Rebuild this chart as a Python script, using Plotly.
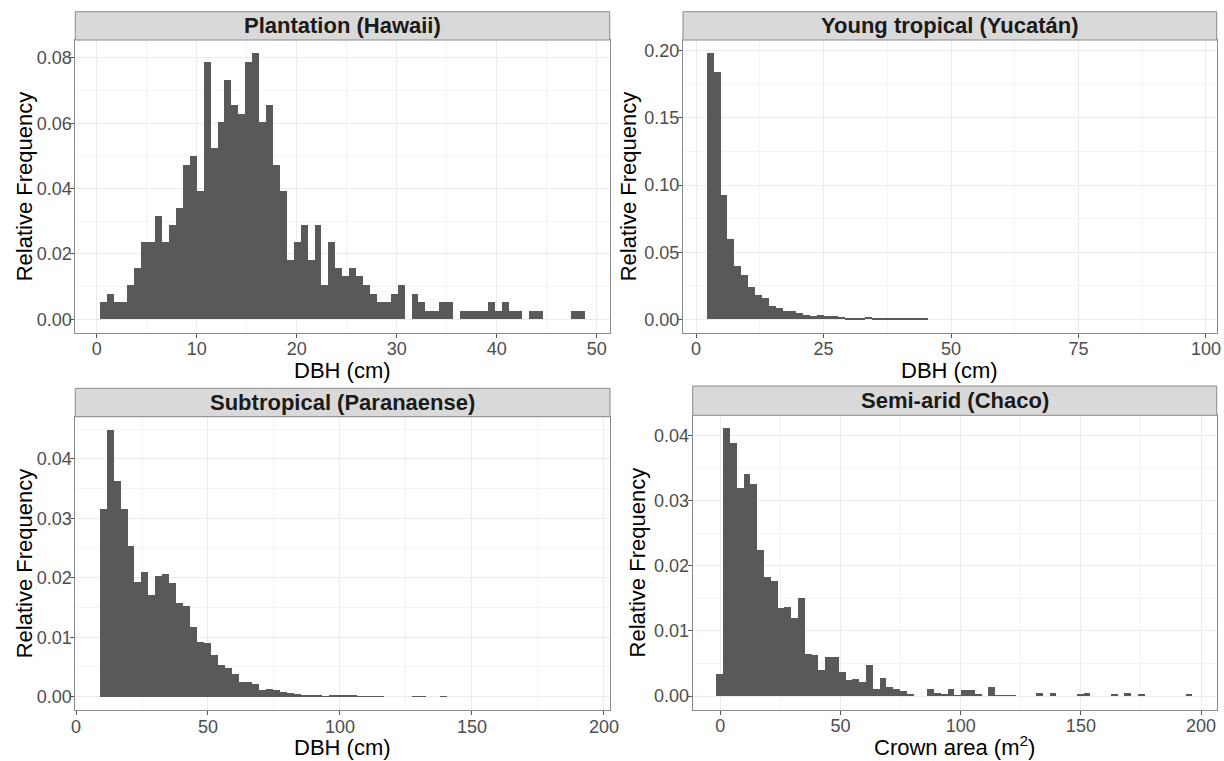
import numpy as np
import plotly.graph_objects as go

# ---------------- data (relative frequencies) ----------------
panel_titles = ["Plantation (Hawaii)", "Young tropical (Yucatán)",
                "Subtropical (Paranaense)", "Semi-arid (Chaco)"]
x_titles = ["DBH (cm)", "DBH (cm)", "DBH (cm)", "Crown area (m<sup>2</sup>)"]
y_title = "Relative Frequency"

# histogram bin definitions (70 bins each)
hawaii_start, hawaii_width = 0.33, 0.693
yucatan_start, yucatan_width = 2.1, 1.353
parana_start, parana_width = 9.1, 2.63
chaco_start, chaco_width = -1.8, 2.83

hawaii_freq = [
    0.0053, 0.0078, 0.0053, 0.0053, 0.0104, 0.0156, 0.0238, 0.0238, 0.0315, 0.0238,
    0.0288, 0.0340, 0.0472, 0.0500, 0.0394, 0.0787, 0.0524, 0.0604, 0.0734, 0.0655,
    0.0630, 0.0787, 0.0814, 0.0604, 0.0655, 0.0472, 0.0394, 0.0183, 0.0238, 0.0288,
    0.0183, 0.0288, 0.0104, 0.0238, 0.0156, 0.0132, 0.0156, 0.0132, 0.0104, 0.0078,
    0.0053, 0.0053, 0.0078, 0.0104, 0.0000, 0.0078, 0.0053, 0.0026, 0.0026, 0.0053,
    0.0053, 0.0000, 0.0026, 0.0026, 0.0026, 0.0026, 0.0053, 0.0026, 0.0053, 0.0026,
    0.0026, 0.0000, 0.0026, 0.0026, 0.0000, 0.0000, 0.0000, 0.0000, 0.0026, 0.0026,
]
yucatan_freq = [
    0.1980, 0.1840, 0.0923, 0.0597, 0.0396, 0.0329, 0.0243, 0.0178, 0.0156, 0.0099,
    0.0087, 0.0064, 0.0064, 0.0045, 0.0032, 0.0027, 0.0035, 0.0022, 0.0022, 0.0020,
    0.0012, 0.0012, 0.0012, 0.0017, 0.0007, 0.0007, 0.0010, 0.0005, 0.0005, 0.0005,
    0.0005, 0.0005, 0.0000, 0.0000, 0.0000, 0.0000, 0.0000, 0.0000, 0.0000, 0.0000,
    0.0000, 0.0000, 0.0000, 0.0000, 0.0000, 0.0000, 0.0000, 0.0000, 0.0000, 0.0000,
    0.0000, 0.0000, 0.0000, 0.0000, 0.0000, 0.0000, 0.0000, 0.0000, 0.0000, 0.0000,
    0.0000, 0.0000, 0.0000, 0.0000, 0.0000, 0.0000, 0.0000, 0.0000, 0.0000, 0.0000,
]
parana_freq = [
    0.0317, 0.0449, 0.0364, 0.0317, 0.0254, 0.0193, 0.0210, 0.0172, 0.0204, 0.0207,
    0.0192, 0.0158, 0.0153, 0.0117, 0.0093, 0.0090, 0.0070, 0.0054, 0.0049, 0.0039,
    0.0025, 0.0025, 0.0022, 0.0012, 0.0013, 0.0011, 0.0009, 0.0006, 0.0005, 0.0003,
    0.0004, 0.0002, 0.0001, 0.0002, 0.0002, 0.0003, 0.0002, 0.0001, 0.0001, 0.0001,
    0.0001, 0.0000, 0.0000, 0.0000, 0.0000, 0.0001, 0.0001, 0.0000, 0.0000, 0.0001,
    0.0000, 0.0000, 0.0000, 0.0000, 0.0000, 0.0000, 0.0000, 0.0000, 0.0000, 0.0000,
    0.0000, 0.0000, 0.0000, 0.0000, 0.0000, 0.0000, 0.0000, 0.0000, 0.0000, 0.0000,
]
chaco_freq = [
    0.0034, 0.0410, 0.0387, 0.0318, 0.0340, 0.0325, 0.0224, 0.0182, 0.0176, 0.0134,
    0.0136, 0.0119, 0.0150, 0.0064, 0.0063, 0.0039, 0.0059, 0.0059, 0.0036, 0.0024,
    0.0026, 0.0021, 0.0048, 0.0011, 0.0027, 0.0013, 0.0010, 0.0007, 0.0002, 0.0000,
    0.0000, 0.0011, 0.0004, 0.0003, 0.0011, 0.0001, 0.0009, 0.0009, 0.0002, 0.0000,
    0.0014, 0.0001, 0.0001, 0.0001, 0.0000, 0.0000, 0.0000, 0.0005, 0.0000, 0.0005,
    0.0000, 0.0000, 0.0000, 0.0002, 0.0005, 0.0000, 0.0000, 0.0000, 0.0002, 0.0000,
    0.0005, 0.0000, 0.0002, 0.0000, 0.0000, 0.0000, 0.0000, 0.0000, 0.0000, 0.0002,
]

x_tickvals = [[0, 10, 20, 30, 40, 50], [0, 25, 50, 75, 100],
              [0, 50, 100, 150, 200], [0, 50, 100, 150, 200]]
y_tickvals = [[0, 0.02, 0.04, 0.06, 0.08], [0, 0.05, 0.10, 0.15, 0.20],
              [0, 0.01, 0.02, 0.03, 0.04], [0, 0.01, 0.02, 0.03, 0.04]]

# ---------------- layout geometry (pixels) ----------------
W, H = 1224, 761
def fx(p): return p / W
def fy(p): return 1 - p / H

panels = [
    dict(l=75.3, r=609.7, t=40.0, b=332.7, st=11.7, xr=[-2.14, 51.3], yr=[-0.0041, 0.0855],
         xminor=5, yminor=0.01, xt=(342.5, 370), yt=(24, 186.3)),
    dict(l=683.0, r=1216.7, t=40.0, b=332.7, st=11.7, xr=[-2.55, 102.1], yr=[-0.0099, 0.2079],
         xminor=12.5, yminor=0.025, xt=(949.9, 370), yt=(628, 186.3)),
    dict(l=75.3, r=610.0, t=416.7, b=710.0, st=388.3, xr=[-0.27, 202.3], yr=[-0.00225, 0.0471],
         xminor=25, yminor=0.005, xt=(342.7, 747), yt=(24, 563.3)),
    dict(l=692.7, r=1216.7, t=415.3, b=709.5, st=386.0, xr=[-11.5, 206.5], yr=[-0.00205, 0.04305],
         xminor=25, yminor=0.005, xt=(954.7, 746), yt=(637, 562.4)),
]

bins = [(hawaii_start, hawaii_width, hawaii_freq),
        (yucatan_start, yucatan_width, yucatan_freq),
        (parana_start, parana_width, parana_freq),
        (chaco_start, chaco_width, chaco_freq)]

FONT = "Liberation Sans, Arial, Helvetica, sans-serif"
BAR = "#595959"
BORDER = "#8a8a8a"
GRID = "#EBEBEB"
MINOR = "#F4F4F4"

fig = go.Figure()
layout = dict(
    width=W, height=H, margin=dict(l=0, r=0, t=0, b=0),
    paper_bgcolor="white", plot_bgcolor="white", showlegend=False,
    bargap=0, template="none", font=dict(family=FONT),
    shapes=[], annotations=[],
)

for i, (p, (start, width, freq)) in enumerate(zip(panels, bins)):
    n = i + 1
    xa = "x" if n == 1 else f"x{n}"
    ya = "y" if n == 1 else f"y{n}"
    centers = start + width * (np.arange(len(freq)) + 0.5)
    fig.add_trace(go.Bar(x=centers, y=freq, width=width, xaxis=xa, yaxis=ya,
                         marker=dict(color=BAR, line=dict(width=0)),
                         hoverinfo="x+y"))
    xkey = "xaxis" if n == 1 else f"xaxis{n}"
    ykey = "yaxis" if n == 1 else f"yaxis{n}"
    layout[xkey] = dict(
        domain=[fx(p["l"]), fx(p["r"])], anchor=ya, range=p["xr"],
        tickmode="array", tickvals=x_tickvals[i],
        ticks="outside", ticklen=4, tickwidth=1, tickcolor="#555",
        ticklabelstandoff=-4,
        tickfont=dict(size=18, color="#4D4D4D", family=FONT),
        showgrid=True, gridcolor=GRID, gridwidth=1, zeroline=False,
        showline=True, linecolor=BORDER, linewidth=1, mirror=True,
        minor=dict(dtick=p["xminor"], tick0=0, showgrid=True, gridcolor=MINOR, gridwidth=1),
        fixedrange=True,
    )
    layout[ykey] = dict(
        domain=[fy(p["b"]), fy(p["t"])], anchor=xa, range=p["yr"],
        tickmode="array", tickvals=y_tickvals[i], tickformat=".2f",
        ticks="outside", ticklen=4, tickwidth=1, tickcolor="#555",
        ticklabelstandoff=-5,
        tickfont=dict(size=18, color="#4D4D4D", family=FONT),
        showgrid=True, gridcolor=GRID, gridwidth=1, zeroline=False,
        showline=True, linecolor=BORDER, linewidth=1, mirror=True,
        minor=dict(dtick=p["yminor"], tick0=0, showgrid=True, gridcolor=MINOR, gridwidth=1),
        fixedrange=True,
    )
    # facet strip
    layout["shapes"].append(dict(
        type="rect", xref="paper", yref="paper",
        x0=fx(p["l"]), x1=fx(p["r"]), y0=fy(p["t"]), y1=fy(p["st"]),
        fillcolor="#D9D9D9", line=dict(color=BORDER, width=1), layer="above"))
    layout["annotations"].append(dict(
        text=f"<b>{panel_titles[i]}</b>", xref="paper", yref="paper",
        x=fx((p["l"] + p["r"]) / 2), y=fy((p["t"] + p["st"]) / 2),
        xanchor="center", yanchor="middle", showarrow=False, borderpad=0,
        font=dict(size=22, color="#1A1A1A", family=FONT)))
    # axis titles
    layout["annotations"].append(dict(
        text=x_titles[i], xref="paper", yref="paper",
        x=fx(p["xt"][0]), y=fy(p["xt"][1]), xanchor="center", yanchor="middle",
        showarrow=False, borderpad=0, font=dict(size=22, color="black", family=FONT)))
    layout["annotations"].append(dict(
        text=y_title, xref="paper", yref="paper", textangle=-90,
        x=fx(p["yt"][0]), y=fy(p["yt"][1]), xanchor="center", yanchor="middle",
        showarrow=False, borderpad=0, font=dict(size=22, color="black", family=FONT)))

fig.update_layout(**layout)
fig.write_html("out.html", config={"displayModeBar": False})

# remove the browser's default page margin so the figure sits at (0, 0)
with open("out.html", "r", encoding="utf-8") as f:
    html = f.read()
html = html.replace("<head>", "<head><style>html,body{margin:0;padding:0;overflow:hidden;}</style>", 1)
with open("out.html", "w", encoding="utf-8") as f:
    f.write(html)
